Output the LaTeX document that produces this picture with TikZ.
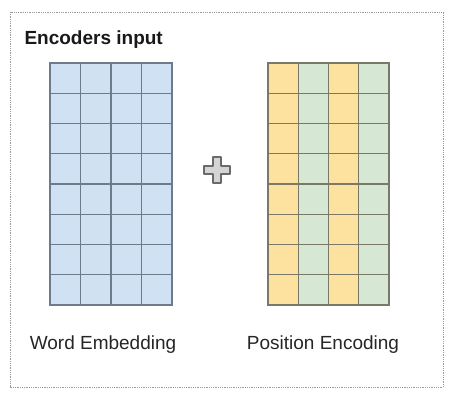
\documentclass[tikz,border=0pt]{standalone}
\usepackage{fontspec}
\setmainfont{Liberation Sans}
\usepackage{xcolor}
\usepackage{tikz}
\usetikzlibrary{positioning}

\definecolor{embblue}{HTML}{D0E1F4}
\definecolor{embedge}{HTML}{6E7B8A}
\definecolor{posyellow}{HTML}{FDE19E}
\definecolor{posgreen}{HTML}{D6E8D3}
\definecolor{posedge}{HTML}{7A7866}
\definecolor{plusfill}{HTML}{D4D4D4}
\definecolor{plusedge}{HTML}{6A6A6A}

\begin{document}
\begin{tikzpicture}[
  x=1pt, y=-1pt,
  frame/.style={draw=gray!80, densely dotted, line width=0.8pt},
  gridemb/.style={draw=embedge, line width=1.4pt, line cap=rect},
  gridpos/.style={draw=posedge, line width=1.4pt, line cap=rect},
  caption/.style={font=\fontsize{19}{22}\selectfont, text=black!85},
  heading/.style={font=\fontsize{19}{22}\selectfont\bfseries, text=black!90, anchor=base west},
  plussign/.style={draw=plusedge, line width=1.2pt, fill=plusfill, line join=round},
]
\useasboundingbox (0,0) rectangle (455,400);

% Outer dotted frame and heading
\draw[frame] (10,12) rectangle (443,387);
\node[heading] (title) at (21,44) {Encoders input};

% Word embedding grid: 4 columns x 8 rows
\fill[embblue] (50,63) rectangle (172,305);
\foreach \c in {0,...,4}
  \draw[gridemb] (50+30.5*\c,63) -- (50+30.5*\c,305);
\foreach \r in {0,...,8}
  \draw[gridemb] (50,63+30.25*\r) -- (172,63+30.25*\r);
\coordinate (embbottom) at (111,305);

% Position encoding grid: yellow / green stripes
\foreach \c/\col in {0/posyellow,1/posgreen,2/posyellow,3/posgreen}
  \fill[\col] (268+30.25*\c,63) rectangle ++(30.25,242);
\foreach \c in {0,...,4}
  \draw[gridpos] (268+30.25*\c,63) -- (268+30.25*\c,305);
\foreach \r in {0,...,8}
  \draw[gridpos] (268,63+30.25*\r) -- (389,63+30.25*\r);
\coordinate (posbottom) at (329,305);

% Plus sign between grids
\draw[plussign] (213,157) -- (221,157) -- (221,166) -- (230,166) -- (230,174)
  -- (221,174) -- (221,183) -- (213,183) -- (213,174) -- (204,174)
  -- (204,166) -- (213,166) -- cycle;

% Captions
\node[caption, below=27pt of embbottom, xshift=-8pt] (wordlbl) {Word Embedding};
\node[caption, below=27pt of posbottom, xshift=-6pt] (poslbl) {Position Encoding};
\end{tikzpicture}
\end{document}
